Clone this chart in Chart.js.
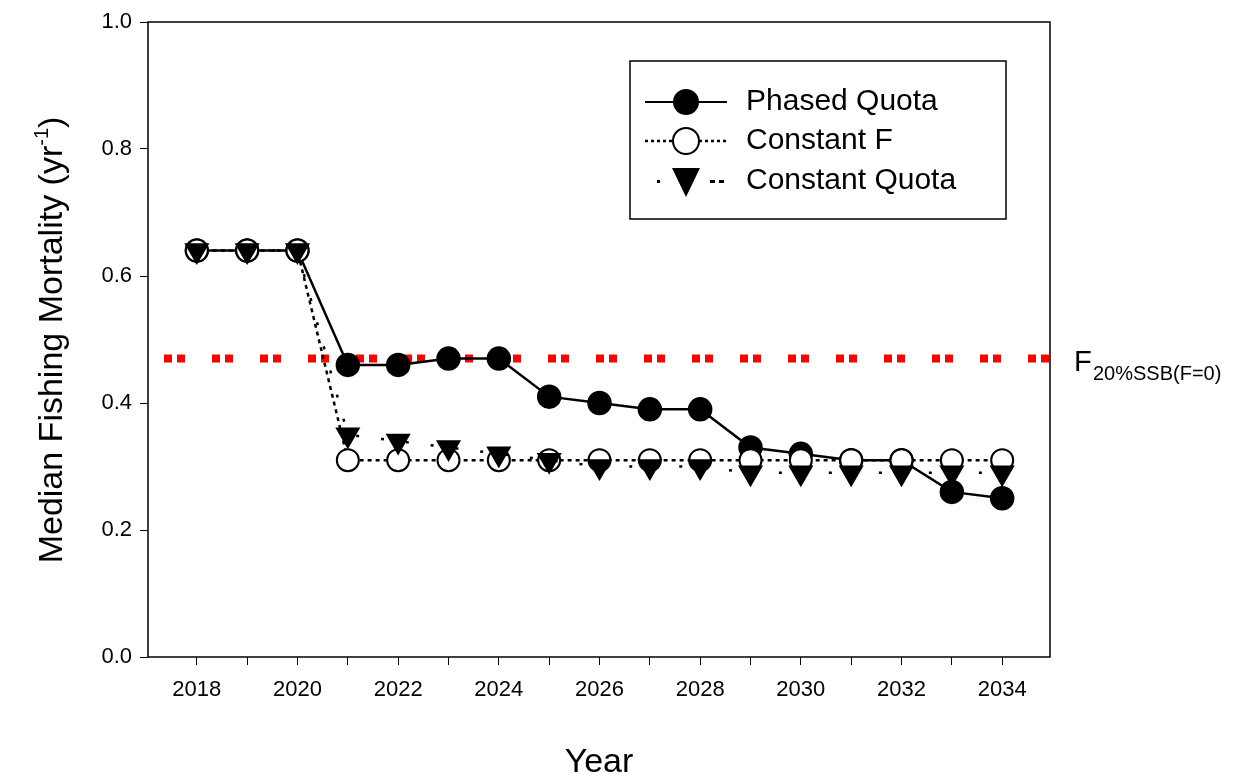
<!DOCTYPE html>
<html>
<head>
<meta charset="utf-8">
<script src="https://cdn.jsdelivr.net/npm/chart.js@4.4.1/dist/chart.umd.min.js"></script>
<style>
  html, body { margin: 0; padding: 0; background: #fff; }
  #wrap { width: 1252px; height: 781px; }
</style>
</head>
<body>
<div id="wrap"><canvas id="fChart"></canvas></div>
<script>
const years = [2018, 2019, 2020, 2021, 2022, 2023, 2024, 2025, 2026, 2027, 2028, 2029, 2030, 2031, 2032, 2033, 2034];
const phasedQuota = [0.64, 0.64, 0.64, 0.46, 0.46, 0.47, 0.47, 0.41, 0.40, 0.39, 0.39, 0.33, 0.32, 0.31, 0.31, 0.26, 0.25];
const constantF = [0.64, 0.64, 0.64, 0.31, 0.31, 0.31, 0.31, 0.31, 0.31, 0.31, 0.31, 0.31, 0.31, 0.31, 0.31, 0.31, 0.31];
const constantQuota = [0.64, 0.64, 0.64, 0.35, 0.34, 0.33, 0.32, 0.31, 0.30, 0.30, 0.30, 0.29, 0.29, 0.29, 0.29, 0.29, 0.29];
const refLevel = 0.47;
const yTicks = [0, 0.2, 0.4, 0.6, 0.8, 1.0];
const xTickYears = [2018, 2020, 2022, 2024, 2026, 2028, 2030, 2032, 2034];

const FONT = 'Liberation Sans, Arial, sans-serif';
const pts = arr => arr.map((v, i) => ({ x: years[i], y: v }));

// frame, reference line, axis titles and legend
const decorPlugin = {
    id: 'decor',
    beforeDatasetsDraw(chart) {
        const { ctx, chartArea: a, scales: { y } } = chart;
        const yy = y.getPixelForValue(refLevel);
        ctx.save();
        ctx.strokeStyle = '#ff0000';
        ctx.lineWidth = 8;
        ctx.setLineDash([8, 5, 8, 27]);
        ctx.beginPath();
        ctx.moveTo(a.left + 16, yy);
        ctx.lineTo(a.right, yy);
        ctx.stroke();
        ctx.restore();
    },
    afterDraw(chart) {
        const { ctx, chartArea: a, scales: { y } } = chart;
        ctx.save();
        ctx.strokeStyle = '#000';
        ctx.lineWidth = 1.5;
        ctx.strokeRect(a.left, a.top, a.right - a.left, a.bottom - a.top);

        // x title
        ctx.fillStyle = '#000';
        ctx.font = '34px ' + FONT;
        ctx.textAlign = 'center';
        ctx.textBaseline = 'alphabetic';
        ctx.fillText('Year', 599, 772);

        // y title with superscript
        ctx.save();
        ctx.translate(50, 340);
        ctx.rotate(-Math.PI / 2);
        const main = 'Median Fishing Mortality (yr';
        ctx.font = '34px ' + FONT;
        const w1 = ctx.measureText(main).width;
        ctx.font = '20px ' + FONT;
        const w2 = ctx.measureText('-1').width;
        ctx.font = '34px ' + FONT;
        const w3 = ctx.measureText(')').width;
        let x0 = -(w1 + w2 + w3) / 2;
        ctx.textAlign = 'left';
        ctx.fillText(main, x0, 12);
        ctx.font = '20px ' + FONT;
        ctx.fillText('-1', x0 + w1, -2);
        ctx.font = '34px ' + FONT;
        ctx.fillText(')', x0 + w1 + w2, 12);
        ctx.restore();

        // reference label
        const ry = y.getPixelForValue(refLevel);
        ctx.textAlign = 'left';
        ctx.font = '29px ' + FONT;
        ctx.fillText('F', 1074, ry + 12);
        ctx.font = '20px ' + FONT;
        ctx.fillText('20%SSB(F=0)', 1093, ry + 21);

        // legend
        ctx.lineWidth = 1.5;
        ctx.strokeRect(630, 61, 376, 158);
        ctx.font = '30px ' + FONT;
        ctx.textBaseline = 'middle';
        const rows = [
            { y: 102, label: 'Phased Quota' },
            { y: 141, label: 'Constant F' },
            { y: 181, label: 'Constant Quota' }
        ];
        rows.forEach(r => ctx.fillText(r.label, 746, r.y));
        ctx.strokeStyle = '#000';
        ctx.lineWidth = 2;
        ctx.beginPath(); ctx.moveTo(645, 102); ctx.lineTo(727, 102); ctx.stroke();
        ctx.beginPath(); ctx.arc(686, 102, 13, 0, Math.PI * 2); ctx.fillStyle = '#000'; ctx.fill();
        ctx.setLineDash([3, 3]);
        ctx.lineWidth = 2.5;
        ctx.beginPath(); ctx.moveTo(645, 141); ctx.lineTo(727, 141); ctx.stroke();
        ctx.setLineDash([]);
        ctx.lineWidth = 2;
        ctx.beginPath(); ctx.arc(686, 141, 13, 0, Math.PI * 2); ctx.fillStyle = '#fff'; ctx.fill(); ctx.stroke();
        ctx.fillStyle = '#000';
        ctx.fillRect(657, 180, 3, 3);
        ctx.fillRect(710, 180, 5, 3);
        ctx.fillRect(719, 180, 5, 3);
        ctx.beginPath(); ctx.moveTo(672, 168); ctx.lineTo(700, 168); ctx.lineTo(686, 197); ctx.closePath(); ctx.fill();
        ctx.restore();
    }
};

new Chart(document.getElementById('fChart'), {
    type: 'line',
    data: {
        datasets: [
            { label: 'Constant Quota', data: pts(constantQuota), borderColor: '#000', borderWidth: 2.5, borderDash: [3, 22],
              pointStyle: 'triangle', rotation: 180, pointRadius: 12, pointBackgroundColor: '#000', pointBorderColor: '#000', tension: 0 },
            { label: 'Constant F', data: pts(constantF), borderColor: '#000', borderWidth: 2.5, borderDash: [4, 4],
              pointStyle: 'circle', pointRadius: 11, pointBackgroundColor: '#fff', pointBorderColor: '#000', pointBorderWidth: 2, tension: 0 },
            { label: 'Phased Quota', data: pts(phasedQuota), borderColor: '#000', borderWidth: 2.5,
              pointStyle: 'circle', pointRadius: 11, pointBackgroundColor: '#000', pointBorderColor: '#000', tension: 0 }
        ]
    },
    options: {
        responsive: true,
        maintainAspectRatio: false,
        animation: false,
        layout: { padding: { top: 22, right: 202, left: 0, bottom: 0 } },
        plugins: { legend: { display: false }, tooltip: { enabled: false } },
        scales: {
            x: {
                type: 'linear', min: 2017.03, max: 2034.95,
                afterBuildTicks: s => { s.ticks = years.map(v => ({ value: v })); },
                afterFit: s => { s.height = 124; },
                grid: { drawOnChartArea: false, drawTicks: true, tickLength: 8, color: '#000' },
                border: { display: false },
                ticks: { color: '#000', font: { family: FONT, size: 22 }, padding: 12, maxRotation: 0, autoSkip: false,
                         callback: v => xTickYears.includes(v) ? String(v) : '' }
            },
            y: {
                min: 0, max: 1,
                afterBuildTicks: s => { s.ticks = yTicks.map(v => ({ value: v })); },
                afterFit: s => { s.width = 148; },
                grid: { drawOnChartArea: false, drawTicks: true, tickLength: 8, color: '#000' },
                border: { display: false },
                ticks: { color: '#000', font: { family: FONT, size: 22 }, padding: 8, callback: v => v.toFixed(1) }
            }
        }
    },
    plugins: [decorPlugin]
});
</script>
</body>
</html>
